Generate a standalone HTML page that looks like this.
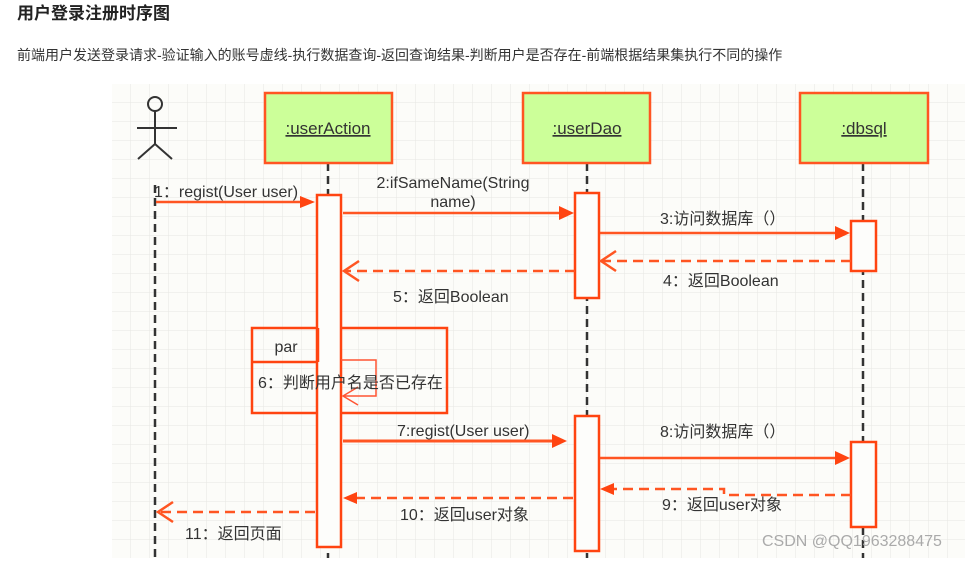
<!DOCTYPE html>
<html><head><meta charset="utf-8"><style>
body{margin:0;background:#fff;width:975px;height:558px;overflow:hidden;font-family:"Liberation Sans","Noto Sans CJK SC",sans-serif}
</style></head><body>
<svg width="975" height="558" xmlns="http://www.w3.org/2000/svg" font-family="Liberation Sans, Noto Sans CJK SC, sans-serif">
<defs>
<pattern id="g" x="112" y="84" width="19" height="19" patternUnits="userSpaceOnUse">
<path d="M19 0V19H0" fill="none" stroke="#e6e6e2" stroke-width="1"/>
</pattern>
</defs>
<text x="17" y="19" font-size="17" font-weight="bold" fill="#222">用户登录注册时序图</text>
<text x="17" y="60" font-size="14" fill="#333">前端用户发送登录请求-验证输入的账号虚线-执行数据查询-返回查询结果-判断用户是否存在-前端根据结果集执行不同的操作</text>
<rect x="112" y="84" width="853" height="474" fill="#fcfcf9"/>
<rect x="112" y="84" width="853" height="474" fill="url(#g)"/>
<g stroke="#333" stroke-width="2" fill="none">
<circle cx="155" cy="104" r="7"/>
<path d="M155 111V144M137 128H177M155 144L138 159M155 144L172 159"/>
</g>
<g stroke="#333" stroke-width="2.5" stroke-dasharray="8,5">
<path d="M155 185V558M328 163V558M587 163V558M863 163V558"/>
</g>
<g fill="#ccff99" stroke="#ff5522" stroke-width="2.5">
<rect x="265" y="93" width="127" height="70"/>
<rect x="523" y="93" width="127" height="70"/>
<rect x="800" y="93" width="128" height="70"/>
</g>
<g font-size="17" fill="#333" text-anchor="middle" text-decoration="underline">
<text x="328" y="134">:userAction</text>
<text x="587" y="134">:userDao</text>
<text x="864" y="134">:dbsql</text>
</g>
<g fill="#fdfdfb" stroke="#ff4411" stroke-width="2.5">
<rect x="317" y="195" width="24" height="352"/>
<rect x="575" y="193" width="24" height="105"/>
<rect x="575" y="416" width="24" height="135"/>
<rect x="851" y="221" width="25" height="50"/>
<rect x="851" y="442" width="25" height="85"/>
</g>
<g fill="none" stroke="#ff4411" stroke-width="2.5">
<path d="M317 328H252V413H317M341 328H447V413H341"/>
<path d="M252 362H317M318 328V362"/>
</g>
<path d="M341 360H376V396H343" fill="none" stroke="#ff5533" stroke-width="1.5"/>
<path d="M358 387L343 396L358 405" fill="none" stroke="#ff5533" stroke-width="1.5"/>
<text x="286" y="352" font-size="16" fill="#333" text-anchor="middle">par</text>
<text x="258" y="388" font-size="16" fill="#333">6：判断用户名是否已存在</text>
<g stroke="#ff5522" stroke-width="2.5" fill="none">
<path d="M156 202H303"/>
<path d="M343 213H562"/>
<path d="M600 233H838"/>
<path d="M851 261H602" stroke-dasharray="10,6"/>
<path d="M575 271H345" stroke-dasharray="10,6"/>
<path d="M343 441H555" stroke-width="3"/>
<path d="M600 458H838"/>
<path d="M851 495H724V489H612" stroke-dasharray="10,6"/>
<path d="M573 498H356" stroke-dasharray="10,6"/>
<path d="M315 512H159" stroke-dasharray="10,6"/>
<path d="M616 251L601 261L616 271M359 261L344 271L359 281M173 502L158 512L173 522"/>
</g>
<g fill="#ff4411">
<path d="M315 202L300 196V208Z"/>
<path d="M574 213L559 206V220Z"/>
<path d="M850 233L835 226V240Z"/>
<path d="M567 441L552 434V448Z"/>
<path d="M850 458L835 451V465Z"/>
<path d="M600 489L614 483V495Z"/>
<path d="M343 498L357 492V504Z"/>
</g>
<g font-size="16" fill="#333">
<text x="154" y="197">1：regist(User user)</text>
<text x="453" y="188" text-anchor="middle">2:ifSameName(String</text>
<text x="453" y="207" text-anchor="middle">name)</text>
<text x="660" y="224">3:访问数据库（）</text>
<text x="663" y="286">4：返回Boolean</text>
<text x="393" y="302">5：返回Boolean</text>
<text x="397" y="436">7:regist(User user)</text>
<text x="660" y="437">8:访问数据库（）</text>
<text x="662" y="510">9：返回user对象</text>
<text x="400" y="520">10：返回user对象</text>
<text x="185" y="539">11：返回页面</text>
</g>
<text x="762" y="546" font-size="16" fill="#aaa">CSDN @QQ1963288475</text>
</svg>
</body></html>
